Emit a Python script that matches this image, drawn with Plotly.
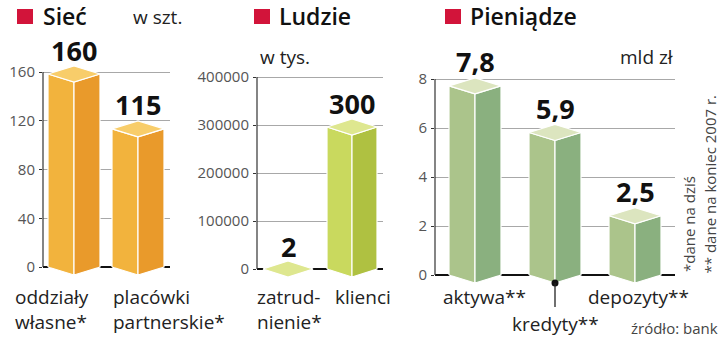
import plotly.graph_objects as go

# ---------------- data ----------------
net_labels = [["oddziały", "własne*"], ["placówki", "partnerskie*"]]
net_vals = [160, 115]
net_ticks = [0, 40, 80, 120, 160]

people_labels = [["zatrud-", "nienie*"], ["klienci"]]
people_vals_k = [2, 300]            # thousands
people_ticks = [0, 100000, 200000, 300000, 400000]

money_labels = ["aktywa**", "kredyty**", "depozyty**"]
money_vals = [7.8, 5.9, 2.5]
money_text = ["7,8", "5,9", "2,5"]
money_ticks = [0, 2, 4, 6, 8]

W, H = 720, 341
FONT = "Open Sans, Liberation Sans, Arial, sans-serif"
RED = "#D2143A"

def py(p):  # pixel y -> paper
    return 1 - p / H

def px(p):
    return p / W

fig = go.Figure()

# panel geometry (pixels): x domain, y domain, pixel y of zero, pixel y of top tick
panels = [
    dict(ax="", xd=(43, 170), yd=(60, 285), y0=267, yt=72, top=160),
    dict(ax="2", xd=(257, 383), yd=(60, 285), y0=269, yt=77, top=400000),
    dict(ax="3", xd=(435, 675), yd=(60, 290), y0=275, yt=79, top=8),
]
for p in panels:
    p["s"] = (p["y0"] - p["yt"]) / p["top"]          # px per unit
    p["ymin"] = -(p["yd"][1] - p["y0"]) / p["s"]
    p["ymax"] = p["top"] + (p["yt"] - p["yd"][0]) / p["s"]

# x scale: px per category unit, first center
xcfg = [dict(c0=74, step=64, hw=26), dict(c0=288, step=64, hw=25), dict(c0=475, step=80, hw=26)]
for p, xc in zip(panels, xcfg):
    p["xmin"] = (p["xd"][0] - xc["c0"]) / xc["step"]
    p["xmax"] = (p["xd"][1] - xc["c0"]) / xc["step"]
    p["hw"] = xc["hw"] / xc["step"]

def add_box(p, c, v, cols):
    xa, ya = "x" + p["ax"], "y" + p["ax"]
    s = p["s"]
    d = 8 / s
    top = max(v - 2 / s, 0)
    hw = p["hw"]
    left = ([c - hw, c - hw, c, c, c - hw], [0, top, top - d, -d, 0])
    right = ([c, c, c + hw, c + hw, c], [-d, top - d, top, 0, -d])
    lid = ([c - hw, c, c + hw, c, c - hw], [top, top + d, top, top - d, top])
    for (xs, ys), col in zip([left, right, lid], cols):
        fig.add_trace(go.Scatter(x=xs, y=ys, xaxis=xa, yaxis=ya, mode="lines",
                                 fill="toself", fillcolor=col,
                                 line=dict(color="white", width=1.2),
                                 hoverinfo="skip", showlegend=False))

ORANGE = ["#F2B33D", "#E99A2B", "#F8CD6A"]
LIME = ["#C9D95E", "#AFC141", "#DEE78F"]
SAGE = ["#ABC48B", "#8AB07F", "#DCE5BF"]

for i, v in enumerate(net_vals):
    add_box(panels[0], i, v, ORANGE)
for i, v in enumerate(people_vals_k):
    add_box(panels[1], i, v * 1000, LIME)
for i, v in enumerate(money_vals):
    add_box(panels[2], i, v, SAGE)

# kredyty pointer dot
p3 = panels[2]
fig.add_trace(go.Scatter(x=[1], y=[-8 / p3["s"]], xaxis="x3", yaxis="y3", mode="markers",
                         marker=dict(color="#111", size=7), cliponaxis=False,
                         hoverinfo="skip", showlegend=False))

layout = dict(width=W, height=H, margin=dict(l=0, r=0, t=0, b=0),
              paper_bgcolor="white", plot_bgcolor="rgba(0,0,0,0)",
              font=dict(family=FONT), showlegend=False)

tickdefs = [
    (net_ticks, [str(t) for t in net_ticks]),
    (people_ticks, [str(t) for t in people_ticks]),
    (money_ticks, [str(t) for t in money_ticks]),
]
shapes = []
for p, (tv, tt) in zip(panels, tickdefs):
    a = p["ax"]
    layout["xaxis" + a] = dict(domain=[px(p["xd"][0]), px(p["xd"][1])], range=[p["xmin"], p["xmax"]],
                               anchor="y" + a, showgrid=False, zeroline=False, showticklabels=False,
                               showline=False, fixedrange=True)
    layout["yaxis" + a] = dict(domain=[py(p["yd"][1]), py(p["yd"][0])], range=[p["ymin"], p["ymax"]],
                               anchor="x" + a, tickvals=tv, ticktext=tt, showgrid=True,
                               gridcolor="#A8A8A8", gridwidth=1, zeroline=True, zerolinecolor="#111",
                               zerolinewidth=2.2, showline=False, ticks="outside", ticklen=3,
                               tickcolor="#333", tickfont=dict(family=FONT, size=15, color="#555"),
                               ticklabelstandoff=1, fixedrange=True)
    shapes.append(dict(type="line", xref="x" + a + " domain", x0=0, x1=0, yref="y" + a,
                       y0=0, y1=p["top"], line=dict(color="#333", width=1.2), layer="above"))

# red squares
for x0, x1 in [(17, 33), (254, 270), (445, 461)]:
    shapes.append(dict(type="rect", xref="paper", yref="paper", x0=px(x0), x1=px(x1),
                       y0=py(24), y1=py(9), fillcolor=RED, line=dict(width=0)))
# kredyty pointer line
shapes.append(dict(type="line", xref="x3", x0=1, x1=1, yref="paper", y0=py(283), y1=py(307),
                   line=dict(color="#222", width=1.3)))
layout["shapes"] = shapes

ann = []
def text(x, y, t, size, xanchor="left", color="#222", weight="normal", yanchor="middle", align="left"):
    ann.append(dict(x=px(x), y=py(y), xref="paper", yref="paper", text=t, showarrow=False,
                    xanchor=xanchor, yanchor=yanchor, align=align,
                    font=dict(family=FONT, size=size, color=color, weight=weight)))

# titles
text(41, 16, "Sieć", 23, weight=600, color="#111")
text(131, 17, "w szt.", 19)
text(277, 16, "Ludzie", 23, weight=600, color="#111")
text(258, 57, "w tys.", 19)
text(468, 16, "Pieniądze", 23, weight=600, color="#111")
text(675, 57, "mld zł", 19, xanchor="right")

# value labels
def vlabel(axn, i, v, t):
    ann.append(dict(x=i, y=v, xref="x" + axn, yref="y" + axn, text="<b>" + t + "</b>",
                    showarrow=False, yanchor="middle", yshift=22,
                    font=dict(family=FONT, size=27, color="#111")))

for i, v in enumerate(net_vals):
    vlabel("", i, v, str(v))
for i, v in enumerate(people_vals_k):
    vlabel("2", i, v * 1000, str(v))
for i, (v, t) in enumerate(zip(money_vals, money_text)):
    vlabel("3", i, v, t)

# category labels (multi-line in one text)
def catlabel(x0, lines):
    n = len(lines)
    yc = 297 + 12 * (n - 1)
    text(x0, yc, "<br>".join(lines), 19)

for lines, x0 in zip(net_labels, [13, 111]):
    catlabel(x0, lines)
for lines, x0 in zip(people_labels, [255, 333]):
    catlabel(x0, lines)
text(441, 297, money_labels[0], 19)
text(555, 324, money_labels[1], 19, xanchor="center")
text(586, 297, money_labels[2], 19)

# side notes
ann.append(dict(x=px(689), y=py(274), xref="paper", yref="paper", text="*dane na dziś",
                textangle=-90, showarrow=False, xanchor="center", yanchor="bottom",
                font=dict(family=FONT, size=15, color="#444")))
ann.append(dict(x=px(709), y=py(276), xref="paper", yref="paper", text="** dane na koniec 2007 r.",
                textangle=-90, showarrow=False, xanchor="center", yanchor="bottom",
                font=dict(family=FONT, size=15, color="#444")))
text(720, 328, "źródło: bank", 15, xanchor="right", color="#444")

layout["annotations"] = ann
fig.update_layout(**layout)
fig.write_html("out.html")
